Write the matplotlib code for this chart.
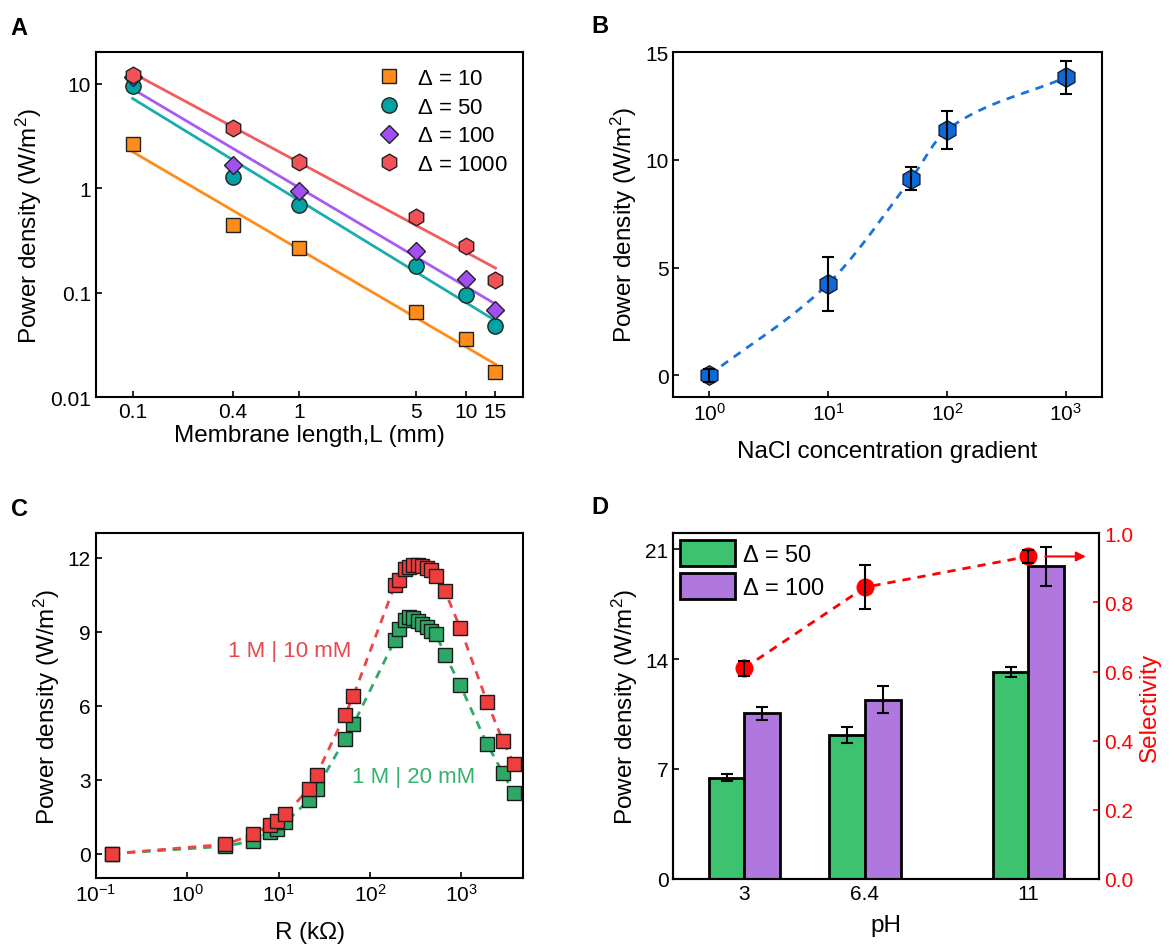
import numpy as np
import matplotlib
matplotlib.use('Agg')
import matplotlib.pyplot as plt
from matplotlib.ticker import FixedLocator, NullLocator, FixedFormatter

plt.rcParams['font.family'] = ['Liberation Sans', 'DejaVu Sans']
plt.rcParams['mathtext.default'] = 'regular'
plt.rcParams['axes.unicode_minus'] = False
plt.rcParams['axes.linewidth'] = 1.5
plt.rcParams['xtick.direction'] = 'in'
plt.rcParams['ytick.direction'] = 'in'
plt.rcParams['xtick.major.size'] = 4
plt.rcParams['ytick.major.size'] = 4
plt.rcParams['xtick.major.width'] = 1.2
plt.rcParams['ytick.major.width'] = 1.2
plt.rcParams['xtick.labelsize'] = 15
plt.rcParams['ytick.labelsize'] = 15
plt.rcParams['axes.labelsize'] = 17.5

# ---- A: power density vs membrane length ----
length_mm = [0.1, 0.4, 1, 5, 10, 15]
pd_d10 = [2.66, 0.444, 0.268, 0.0655, 0.036, 0.0173]
pd_d50 = [9.57, 1.28, 0.69, 0.182, 0.0957, 0.048]
pd_d100 = [11.5, 1.66, 0.95, 0.253, 0.136, 0.068]
pd_d1000 = [12.2, 3.78, 1.78, 0.526, 0.278, 0.134]
length_labels = ['0.1', '0.4', '1', '5', '10', '15']

# ---- B: power density vs NaCl gradient ----
gradient = [1, 10, 50, 100, 1000]
pd_grad = [0, 4.24, 9.13, 11.4, 13.84]
pd_grad_err = [0.3, 1.25, 0.52, 0.87, 0.76]

# ---- C: power density vs load resistance ----
res_kohm = [0.15, 2.63, 5.3, 8.07, 9.7, 11.9, 21.4, 26.1, 53.5, 66, 187, 208,
            242, 270, 298, 333, 372, 417, 466, 528, 662, 973, 1905, 2852, 3767]
pd_10mM = [0, 0.38, 0.78, 1.15, 1.32, 1.59, 2.63, 3.2, 5.64, 6.41, 10.9, 11.1,
           11.55, 11.65, 11.7, 11.7, 11.68, 11.6, 11.5, 11.25, 10.65, 9.16, 6.17, 4.57, 3.65]
pd_20mM = [0, 0.3, 0.53, 0.87, 1.0, 1.27, 2.16, 2.63, 4.66, 5.25, 8.66, 9.13,
           9.5, 9.6, 9.58, 9.45, 9.3, 9.2, 9.05, 8.9, 8.08, 6.83, 4.46, 3.27, 2.45]

# ---- D: pH dependence ----
ph = [3, 6.4, 11]
pd_50 = [6.43, 9.17, 13.15]
pd_50_err = [0.22, 0.5, 0.32]
pd_100 = [10.55, 11.41, 19.9]
pd_100_err = [0.42, 0.86, 1.26]
selectivity = [0.61, 0.844, 0.933]
selectivity_err = [0.022, 0.064, 0.018]


def smooth_curve(x, y, n=200):
    # monotone cubic hermite, used only for the guide line in B
    x = np.asarray(x, float)
    y = np.asarray(y, float)
    h = np.diff(x)
    d = np.diff(y) / h
    m = np.zeros_like(y)
    m[0], m[-1] = d[0], d[-1]
    for k in range(1, len(x) - 1):
        if d[k - 1] * d[k] > 0:
            w1 = 2 * h[k] + h[k - 1]
            w2 = h[k] + 2 * h[k - 1]
            m[k] = (w1 + w2) / (w1 / d[k - 1] + w2 / d[k])
    xs = np.linspace(x[0], x[-1], n)
    idx = np.clip(np.searchsorted(x, xs) - 1, 0, len(x) - 2)
    t = (xs - x[idx]) / h[idx]
    h00 = 2 * t**3 - 3 * t**2 + 1
    h10 = t**3 - 2 * t**2 + t
    h01 = -2 * t**3 + 3 * t**2
    h11 = t**3 - t**2
    ys = h00 * y[idx] + h10 * h[idx] * m[idx] + h01 * y[idx + 1] + h11 * h[idx] * m[idx + 1]
    return xs, ys


fig = plt.figure(figsize=(11.75, 9.45), dpi=100)

axA = fig.add_axes([0.0814, 0.5785, 0.3639, 0.3651])
axB = fig.add_axes([0.5730, 0.5792, 0.3646, 0.3644])
axC = fig.add_axes([0.0814, 0.0695, 0.3639, 0.3651])
axD = fig.add_axes([0.5730, 0.0688, 0.3626, 0.3658])

# ---------------- A ----------------
seriesA = [
    (pd_d10, 's', '#ff8c1a', '#ff8c1a', 10, r'$\Delta$ = 10'),
    (pd_d50, 'o', '#00a3a3', '#1aadad', 11, r'$\Delta$ = 50'),
    (pd_d100, 'D', '#a14ff2', '#a95af5', 9, r'$\Delta$ = 100'),
    (pd_d1000, 'h', '#f25157', '#f25c5c', 12, r'$\Delta$ = 1000'),
]
lx = np.log10(length_mm)
xfit = np.array([min(length_mm), max(length_mm)])
for i, (vals, mk, fc, lc, ms, lab) in enumerate(seriesA):
    k, b = np.polyfit(lx, np.log10(vals), 1)
    axA.plot(xfit, 10 ** (k * np.log10(xfit) + b), color=lc, lw=2, zorder=2)
    axA.plot(length_mm, vals, ls='none', marker=mk, ms=ms, mfc=fc, mec='#222222',
             mew=1.0, label=lab, zorder=3 + i)
axA.set_xscale('log')
axA.set_yscale('log')
axA.set_xlim(0.06, 22)
axA.set_ylim(0.01, 20)
axA.xaxis.set_major_locator(FixedLocator(length_mm))
axA.xaxis.set_major_formatter(FixedFormatter(length_labels))
axA.xaxis.set_minor_locator(NullLocator())
axA.yaxis.set_major_locator(FixedLocator([0.01, 0.1, 1, 10]))
axA.yaxis.set_major_formatter(FixedFormatter(['0.01', '0.1', '1', '10']))
axA.yaxis.set_minor_locator(NullLocator())
axA.set_xlabel('Membrane length,L (mm)', labelpad=2)
axA.set_ylabel('Power density (W/m$^2$)')
axA.legend(loc='upper right', frameon=False, fontsize=16, handletextpad=0.5,
           labelspacing=0.35, borderaxespad=0.3, handlelength=1.5)

# ---------------- B ----------------
xs, ys = smooth_curve(np.log10(gradient), pd_grad)
axB.plot(10 ** xs, ys, ls=(0, (3, 2.5)), color='#1a73d9', lw=2, zorder=2)
axB.plot(gradient, pd_grad, ls='none', marker='h', ms=14, mfc='#0b6ad6',
         mec='#1a1a3a', mew=1.0, zorder=3)
axB.errorbar(gradient, pd_grad, yerr=pd_grad_err, fmt='none', ecolor='black',
             elinewidth=1.5, capsize=4, capthick=1.5, zorder=4)
axB.set_xscale('log')
axB.set_xlim(0.5, 2000)
axB.set_ylim(-1, 15)
axB.xaxis.set_major_locator(FixedLocator([1, 10, 100, 1000]))
axB.xaxis.set_minor_locator(NullLocator())
axB.set_yticks([0, 5, 10, 15])
axB.set_xlabel('NaCl concentration gradient', labelpad=12)
axB.set_ylabel('Power density (W/m$^2$)')

# ---------------- C ----------------
axC.plot(res_kohm, pd_20mM, ls=(0, (3, 2.5)), color='#2eaa66', lw=2, zorder=2)
axC.plot(res_kohm, pd_10mM, ls=(0, (3, 2.5)), color='#ee4444', lw=2, zorder=2)
axC.plot(res_kohm, pd_20mM, ls='none', marker='s', ms=10, mfc='#2fa866',
         mec='#1a1a1a', mew=1.0, zorder=3)
axC.plot(res_kohm, pd_10mM, ls='none', marker='s', ms=10, mfc='#ee3e3e',
         mec='#1a1a1a', mew=1.0, zorder=4)
axC.set_xscale('log')
axC.set_xlim(0.1, 4750)
axC.set_ylim(-1, 13)
axC.xaxis.set_major_locator(FixedLocator([0.1, 1, 10, 100, 1000]))
axC.xaxis.set_minor_locator(NullLocator())
axC.set_yticks([0, 3, 6, 9, 12])
axC.text(13.2, 8.25, '1 M | 10 mM', color='#e8474b', fontsize=16, ha='center', va='center')
axC.text(298, 3.13, '1 M | 20 mM', color='#33b26b', fontsize=16, ha='center', va='center')
axC.set_xlabel('R (k$\\Omega$)', labelpad=10)
axC.set_ylabel('Power density (W/m$^2$)')

# ---------------- D ----------------
ph_arr = np.array(ph)
axD.bar(ph_arr - 0.5, pd_50, width=1.0, color='#3dc270', edgecolor='black', lw=2,
        label=r'$\Delta$ = 50', zorder=2)
axD.bar(ph_arr + 0.5, pd_100, width=1.0, color='#b078de', edgecolor='black', lw=2,
        label=r'$\Delta$ = 100', zorder=2)
axD.errorbar(ph_arr - 0.5, pd_50, yerr=pd_50_err, fmt='none', ecolor='black',
             elinewidth=1.5, capsize=4, capthick=1.5, zorder=3)
axD.errorbar(ph_arr + 0.5, pd_100, yerr=pd_100_err, fmt='none', ecolor='black',
             elinewidth=1.5, capsize=4, capthick=1.5, zorder=3)
axD.set_xlim(1, 13)
axD.set_ylim(0, 22)
axD.set_xticks(ph)
axD.set_xticklabels(['3', '6.4', '11'])
axD.set_yticks([0, 7, 14, 21])
axD.set_xlabel('pH', labelpad=8)
axD.set_ylabel('Power density (W/m$^2$)')
axD.legend(loc='upper left', frameon=False, fontsize=17, handlelength=2.3,
           handleheight=1.3, handletextpad=0.3, labelspacing=0.3,
           borderaxespad=0.2, borderpad=0.1)

axD2 = axD.twinx()
axD2.plot(ph, selectivity, ls=(0, (3, 2.5)), color='red', lw=2, marker='o', ms=12,
          mfc='red', mec='red', zorder=3)
axD2.errorbar(ph, selectivity, yerr=selectivity_err, fmt='none', ecolor='black',
              elinewidth=1.5, capsize=4, capthick=1.5, zorder=4)
axD2.annotate('', xy=(ph[-1] + 1.7, selectivity[-1]), xytext=(ph[-1] + 0.4, selectivity[-1]),
              arrowprops=dict(arrowstyle='-|>', color='red', lw=1.5, mutation_scale=14))
axD2.set_ylim(0, 1)
axD2.set_yticks([0, 0.2, 0.4, 0.6, 0.8, 1.0])
axD2.set_yticklabels(['0.0', '0.2', '0.4', '0.6', '0.8', '1.0'])
axD2.tick_params(axis='y', colors='red', labelcolor='red')
axD2.spines['right'].set_color('black')
axD2.set_ylabel('Selectivity', color='red', labelpad=4)

# panel letters
for lab, x, y in [('A', 0.009, 0.982), ('B', 0.503, 0.984), ('C', 0.009, 0.473), ('D', 0.503, 0.475)]:
    fig.text(x, y, lab, fontsize=17, fontweight='bold', va='top', ha='left')

fig.savefig('out.png', dpi=100)
